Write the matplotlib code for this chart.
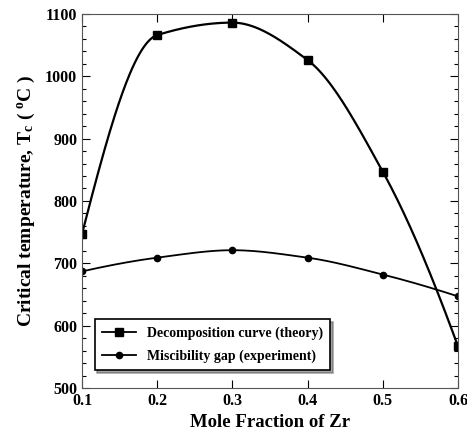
import numpy as np
import matplotlib
matplotlib.use("Agg")
import matplotlib.pyplot as plt
from matplotlib.lines import Line2D

x_frac = [0.1, 0.2, 0.3, 0.4, 0.5, 0.6]
theory = [747, 1066, 1086, 1026, 847, 567]
experiment = [687, 709, 721, 709, 682, 647]

plt.rcParams['font.family'] = ['Liberation Serif', 'DejaVu Serif']
plt.rcParams['font.weight'] = 'bold'
plt.rcParams['mathtext.fontset'] = 'custom'
plt.rcParams['mathtext.rm'] = 'Liberation Serif:bold'
plt.rcParams['mathtext.it'] = 'Liberation Serif:bold'
plt.rcParams['mathtext.bf'] = 'Liberation Serif:bold'


def pchip(x, y, n=300):
    x = np.asarray(x, float); y = np.asarray(y, float)
    h = np.diff(x); delta = np.diff(y) / h
    m = len(x); d = np.zeros(m)
    for k in range(1, m - 1):
        if delta[k - 1] * delta[k] > 0:
            w1 = 2 * h[k] + h[k - 1]; w2 = h[k] + 2 * h[k - 1]
            d[k] = (w1 + w2) / (w1 / delta[k - 1] + w2 / delta[k])
    def end(h0, h1, d0, d1):
        s = ((2 * h0 + h1) * d0 - h0 * d1) / (h0 + h1)
        if np.sign(s) != np.sign(d0):
            s = 0
        elif np.sign(d0) != np.sign(d1) and abs(s) > abs(3 * d0):
            s = 3 * d0
        return s
    d[0] = end(h[0], h[1], delta[0], delta[1])
    d[-1] = end(h[-1], h[-2], delta[-1], delta[-2])
    xs = np.linspace(x[0], x[-1], n); ys = np.empty_like(xs)
    for j, xv in enumerate(xs):
        i = min(np.searchsorted(x, xv, side='right') - 1, m - 2)
        t = (xv - x[i]) / h[i]
        h00 = 2 * t**3 - 3 * t**2 + 1; h10 = t**3 - 2 * t**2 + t
        h01 = -2 * t**3 + 3 * t**2; h11 = t**3 - t**2
        ys[j] = h00 * y[i] + h10 * h[i] * d[i] + h01 * y[i + 1] + h11 * h[i] * d[i + 1]
    return xs, ys


fig = plt.figure(figsize=(4.67, 4.34), dpi=100)
ax = fig.add_axes([0.1756, 0.106, 0.805, 0.862])

xs, ys = pchip(x_frac, theory)
ax.plot(xs, ys, color='black', lw=1.6)
xs2, ys2 = pchip(x_frac, experiment)
ax.plot(xs2, ys2, color='black', lw=1.3)
ax.plot(x_frac, theory, 's', color='black', ms=5.5)
ax.plot(x_frac, experiment, 'o', color='black', ms=4.5)

h1 = Line2D([], [], color='black', marker='s', ms=5.5, lw=1.3)
h2 = Line2D([], [], color='black', marker='o', ms=4.5, lw=1.3)
leg = ax.legend([h1, h2], ['Decomposition curve (theory)', 'Miscibility gap (experiment)'],
                loc='lower left', bbox_to_anchor=(0.015, 0.03), fancybox=False, shadow=True,
                edgecolor='black', fontsize=10, handlelength=2.5, borderpad=0.5,
                labelspacing=0.7, framealpha=1)
leg.get_frame().set_linewidth(1.2)

ax.set_xlim(0.1, 0.6)
ax.set_ylim(500, 1100)
ax.set_xticks([0.1, 0.2, 0.3, 0.4, 0.5, 0.6])
ax.set_yticks([500, 600, 700, 800, 900, 1000, 1100])
ax.set_yticks(np.arange(500, 1101, 20), minor=True)
ax.tick_params(axis='both', which='both', direction='in', top=True, right=True, labelsize=11.5)
ax.tick_params(which='major', length=6, width=0.8)
ax.tick_params(which='minor', length=3, width=0.8)
for s in ax.spines.values():
    s.set_color('#555555')
ax.set_xlabel('Mole Fraction of Zr', fontsize=13.5, fontweight='bold', labelpad=4)
ax.set_ylabel('Critical temperature, T$_c$ ( $^o$C )', fontsize=14, fontweight='bold', labelpad=6)

fig.savefig('out.png', dpi=100)
